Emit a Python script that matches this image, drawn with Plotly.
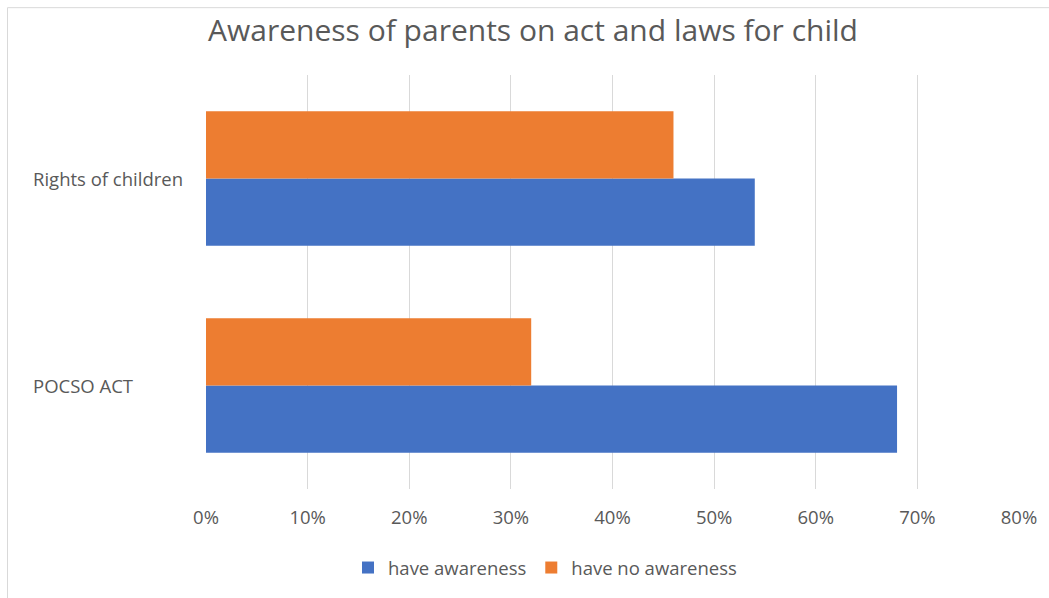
import plotly.graph_objects as go

categories = ["POCSO ACT", "Rights of children"]
have_awareness = [0.68, 0.54]
have_no_awareness = [0.32, 0.46]
series_names = ["have awareness", "have no awareness"]
colors = ["#4472C4", "#ED7D31"]
title = "Awareness of parents on act and laws for child"

W, H = 1049, 598
L, R, T, B = 206, 1019, 75, 490
FS = 18.5

fig = go.Figure()
fig.add_trace(go.Bar(y=categories, x=have_awareness, orientation="h",
                     name=series_names[0], marker=dict(color=colors[0], line=dict(width=0))))
fig.add_trace(go.Bar(y=categories, x=have_no_awareness, orientation="h",
                     name=series_names[1], marker=dict(color=colors[1], line=dict(width=0))))

def px(x):
    return (x - L) / (R - L)

def py(y):
    return (B - y) / (B - T)

for cat in categories:
    fig.add_annotation(x=px(31), xref="paper", y=cat, yref="y", text=cat,
                       showarrow=False, xanchor="left", yanchor="middle",
                       font=dict(family="Open Sans", size=FS, color="#595959"))

fig.add_shape(type="rect", xref="paper", yref="paper",
              x0=px(7.5), x1=px(1052), y0=py(602), y1=py(7.5),
              line=dict(color="#D9D9D9", width=1), fillcolor="rgba(0,0,0,0)", layer="below")

fig.update_layout(
    width=W, height=H,
    margin=dict(l=L, r=W - R, t=T, b=H - B),
    paper_bgcolor="white", plot_bgcolor="white",
    barmode="group", bargap=0.35, bargroupgap=0,
    title=dict(text=title, x=533 / W, xref="container", xanchor="center",
               y=1 - 30 / H, yanchor="middle",
               font=dict(family="Open Sans", size=30, color="#595959")),
    font=dict(family="Open Sans", size=FS, color="#595959"),
    showlegend=True,
    legend=dict(orientation="h", x=px(545), xanchor="center", y=py(568), yanchor="middle",
                font=dict(family="Open Sans", size=FS, color="#595959"),
                traceorder="normal"),
    xaxis=dict(range=[0, 0.8], dtick=0.1, tick0=0, tickformat=".0%",
               showgrid=True, gridcolor="#D9D9D9", gridwidth=1,
               zeroline=False, showline=False, ticklabelstandoff=15,
               tickfont=dict(family="Open Sans", size=FS, color="#595959")),
    yaxis=dict(categoryorder="array", categoryarray=categories,
               showticklabels=False, showgrid=False, zeroline=False, showline=False),
)

fig.write_html("out.html")
